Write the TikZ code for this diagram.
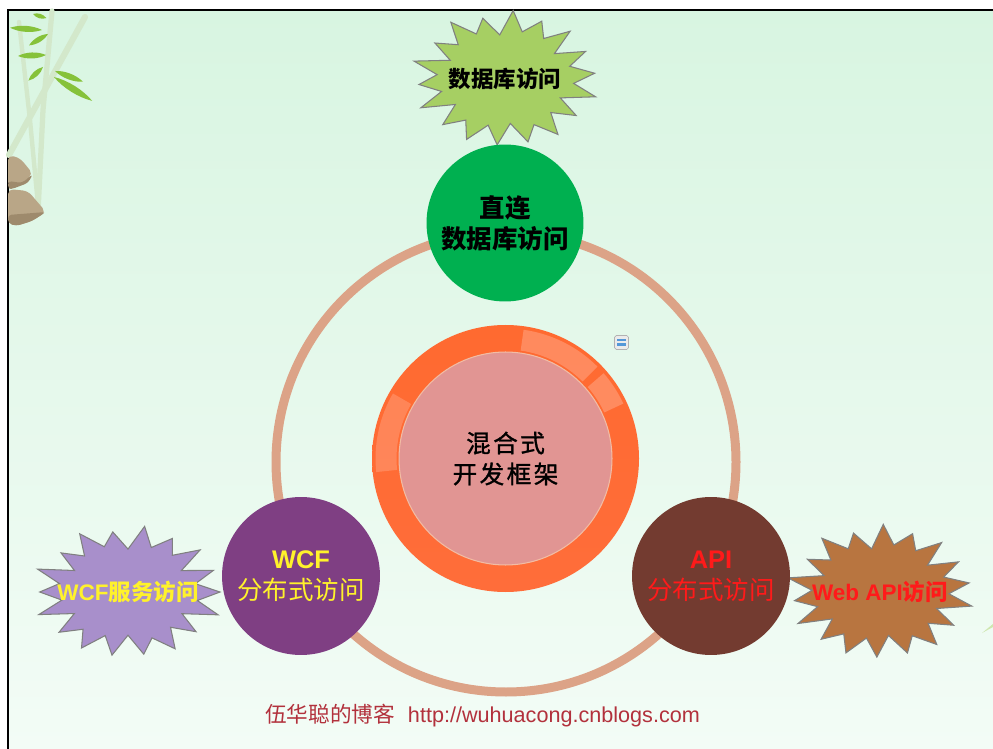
\documentclass[tikz,border=0pt]{standalone}
\usepackage{fontspec}
\setmainfont{Liberation Sans}
\newfontfamily\cjk{Noto Sans CJK SC}
\newfontfamily\cjkw[LetterSpace=10,FakeBold=1.2]{Noto Sans CJK SC}
\usetikzlibrary{calc}

\definecolor{bgtop}{HTML}{D8F5E1}
\definecolor{bgbot}{HTML}{F3FCF6}
\definecolor{ringc}{HTML}{DCA387}
\definecolor{dbgreen}{HTML}{00B050}
\definecolor{wcfpurple}{HTML}{7F3F83}
\definecolor{apibrown}{HTML}{733B30}
\definecolor{burstgreen}{HTML}{A6CF63}
\definecolor{burstlav}{HTML}{A88FCB}
\definecolor{burstbrown}{HTML}{B87540}
\definecolor{hubpink}{HTML}{E19593}
\definecolor{orangeA}{HTML}{FF6A30}
\definecolor{orangeB}{HTML}{FF4A0E}
\definecolor{orangeC}{HTML}{FF6D3A}
\definecolor{txtyellow}{HTML}{FFF22B}
\definecolor{txtred}{HTML}{FF1A1A}
\definecolor{footred}{HTML}{B2313C}
\definecolor{stalk}{HTML}{D3E8CB}
\definecolor{leafg}{HTML}{86C23A}
\definecolor{rockc}{HTML}{B9A687}
\definecolor{rockd}{HTML}{9E8A6C}

\begin{document}
\begin{tikzpicture}[x=0.02cm, y=-0.02cm,
  declare function={br(\k)=(mod(\k,2)==0) ? 1+0.05*sin(\k*97) : 0.72+0.05*cos(\k*61);},
  burstline/.style={draw=black!50, line width=0.6pt, line join=miter},
  sat/.style={circle, inner sep=0pt, align=center,
              font={\fontsize{14.5pt}{17.6pt}\selectfont\cjk}},
  leaf/.style={fill=leafg},
  lbl/.style={align=center, inner sep=0pt,
              font={\fontsize{12.8pt}{15pt}\selectfont\bfseries}}]

\useasboundingbox (0,0) rectangle (993,749);

% page background and frame
\fill[white] (0,0) rectangle (993,749);
\shade[top color=bgtop, bottom color=bgbot] (8,10) rectangle (993,749);
\draw[black, line width=0.8pt] (8,749) -- (8,10) -- (993,10);

% bamboo decoration
\begin{scope}[line cap=round]
  \draw[stalk, line width=3.5pt] (85,17) -- (9,155);
  \draw[stalk, line width=3pt] (52,11) -- (43,110) -- (38,212);
  \draw[stalk, line width=2.5pt] (19,22) -- (30,120) -- (38,205);
  \foreach \bx/\by/\ang/\len/\wd in {42/30/176/32/4, 48/34/211/22/3.5, 46/55/182/28/4,
      43/67/223/20/3.5, 55/71/-21/30/4, 54/77/-32/45/4.5, 33/14/-17/14/3}{
    \begin{scope}[shift={(\bx,\by)}, rotate=\ang]
      \fill[leaf] (0,0) .. controls (0.3*\len,\wd) and (0.7*\len,\wd) .. (\len,0)
                        .. controls (0.7*\len,-\wd) and (0.3*\len,-\wd) .. (0,0);
    \end{scope}}
  \fill[rockc, rounded corners=3pt] (8,155) -- (20,158) -- (33,174) -- (22,184) -- (8,187) -- cycle;
  \fill[rockd, rounded corners=2pt] (8,181) -- (22,183) -- (33,174) -- (28,183) -- (12,189) -- (8,189) -- cycle;
  \fill[rockc, rounded corners=3pt] (8,189) -- (28,191) -- (46,212) -- (32,221) -- (16,226) -- (8,223) -- cycle;
  \fill[rockd, rounded corners=2pt] (8,215) -- (46,212) -- (32,221) -- (16,226) -- (8,223) -- cycle;
  \fill[leafg!40] (982,633) -- (993,624) -- (993,627) -- cycle;
\end{scope}

% outer ring joining the three access modes
\draw[ringc, line width=0.18cm] (506,462) circle[radius=230];

% starbursts
\foreach \nm/\cx/\cy/\rx/\ry/\fc/\off in {dbstar/505/79/90/66/burstgreen/5, wcfstar/128/592/92/64/burstlav/0, webstar/880/592/90/65/burstbrown/8}{
  \draw[burstline, fill=\fc]
    plot[samples at={0,...,35}]
      ({\cx+\rx*br(\x)*cos(\x*10+\off)}, {\cy-\ry*br(\x)*sin(\x*10+\off)})
    -- cycle;
  \coordinate (\nm) at (\cx,\cy);}
\node[lbl] (dblabel) at (dbstar) {\cjk 数据库访问};
\node[lbl, text=txtyellow] (wcflabel) at (wcfstar) {WCF{\cjk 服务访问}};
\node[lbl, text=txtred] (weblabel) at (webstar) {Web API{\cjk 访问}};

% satellite circles
\node[sat, fill=dbgreen, minimum size=3.14cm,
      font={\fontsize{14.5pt}{17.6pt}\selectfont\cjk\bfseries}] (direct) at (505,223)
  {直连\\ 数据库访问};
\node[sat, fill=wcfpurple, minimum size=3.16cm, text=txtyellow] (wcf) at (301,576)
  {{\fontspec{Liberation Sans}\bfseries WCF}\\ 分布式访问};
\node[sat, fill=apibrown, minimum size=3.16cm, text=txtred] (api) at (711,576)
  {{\fontspec{Liberation Sans}\bfseries API}\\ 分布式访问};

% central hub: glossy orange ring around a pink disc
\coordinate (hubc) at (505.5,458.5);
\shade[top color=orangeA, middle color=orangeB, bottom color=orangeC]
  (hubc) circle[radius=133.5];
\fill[white, opacity=0.22] ($(hubc)+(82:2.6cm)$) arc[start angle=82, end angle=45, radius=2.6cm]
  -- ($(hubc)+(45:2.18cm)$) arc[start angle=45, end angle=82, radius=2.18cm] -- cycle;
\fill[white, opacity=0.22] ($(hubc)+(41:2.6cm)$) arc[start angle=41, end angle=25, radius=2.6cm]
  -- ($(hubc)+(25:2.18cm)$) arc[start angle=25, end angle=41, radius=2.18cm] -- cycle;
\fill[white, opacity=0.18] ($(hubc)+(150:2.6cm)$) arc[start angle=150, end angle=186, radius=2.6cm]
  -- ($(hubc)+(186:2.18cm)$) arc[start angle=186, end angle=150, radius=2.18cm] -- cycle;
\node[circle, fill=hubpink, draw=hubpink!70!orange!60!white, line width=0.6pt,
      minimum size=4.26cm, inner sep=0pt, align=center,
      font={\fontsize{14pt}{17.6pt}\selectfont\cjkw}] (hub) at (hubc)
  {混合式\\ 开发框架};

% small toolbar icon
\node[draw=black!30, fill=black!8, rounded corners=1pt, minimum size=0.28cm, inner sep=0pt] (icon) at (621.5,342.5) {};
\fill[cyan!60!blue!70] (617,339) rectangle (626,341.5);
\fill[cyan!60!blue!70] (617,343.5) rectangle (626,346);

% footer
\node[anchor=west, text=footred, inner sep=0pt,
      font={\fontsize{12.3pt}{14pt}\selectfont}] (footer) at (265,716)
  {{\cjk 伍华聪的博客}\hspace{0.6em}http://wuhuacong.cnblogs.com};

\end{tikzpicture}
\end{document}
